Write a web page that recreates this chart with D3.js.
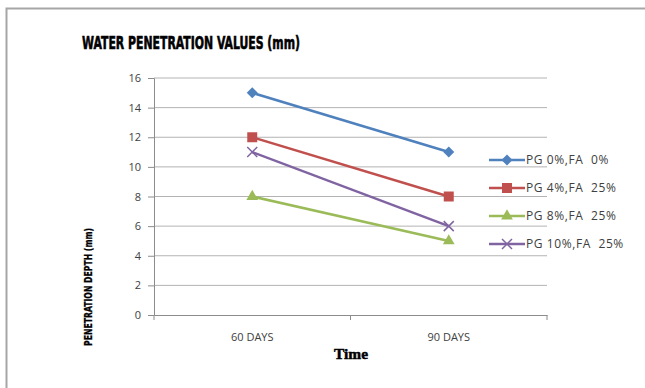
<!DOCTYPE html>
<html>
<head>
<meta charset="utf-8">
<script src="https://cdn.jsdelivr.net/npm/d3@7"></script>
<style>
  body { margin: 0; background: #fff; }
  svg { display: block; }
  text { white-space: pre; }
</style>
</head>
<body>
<svg id="chart" width="645" height="388"></svg>
<script>
// chart data
const categories = ["60 DAYS", "90 DAYS"];
const seriesNames = ["PG 0%,FA  0%", "PG 4%,FA  25%", "PG 8%,FA  25%", "PG 10%,FA  25%"];
const pg0 = [15, 11];
const pg4 = [12, 8];
const pg8 = [8, 5];
const pg10 = [11, 6];
const yTicks = [0, 2, 4, 6, 8, 10, 12, 14, 16];

const colors = ["#4F81BD", "#C0504D", "#9BBB59", "#8064A2"];
const markerTypes = ["diamond", "square", "triangle", "x"];
const series = [pg0, pg4, pg8, pg10].map((v, i) => ({name: seriesNames[i], values: v, color: colors[i], type: markerTypes[i]}));

// draw a marker at (cx, cy)
function marker(g, type, color, cx, cy) {
    const m = g.append("path").attr("transform", `translate(${cx},${cy})`);
    if (type === "diamond") {
        m.attr("d", "M0,-5.5L5.5,0L0,5.5L-5.5,0Z").attr("fill", color);
    } else if (type === "square") {
        m.attr("d", "M-5,-5H5V5H-5Z").attr("fill", color);
    } else if (type === "triangle") {
        m.attr("d", d3.symbol(d3.symbolTriangle, 60)()).attr("fill", color);
    } else {
        m.attr("d", "M-5,-5L5,5M-5,5L5,-5").attr("fill", "none")
            .attr("stroke", color).attr("stroke-width", 1.5);
    }
}

const svg = d3.select("#chart");
const margin = {top: 78, right: 98, bottom: 73, left: 154};
const width = 645, height = 388;

// outer frame
svg.append("path")
    .attr("d", "M6.5,388 V8.5 H645")
    .attr("fill", "none")
    .attr("stroke", "#a6a6a6")
    .attr("stroke-width", 2);

const x = d3.scaleBand()
    .domain(categories)
    .range([margin.left, width - margin.right]);

const y = d3.scaleLinear()
    .domain([0, 16])
    .range([height - margin.bottom, margin.top]);

// gridlines
svg.append("g")
    .selectAll("line").data(yTicks.filter(d => d > 0)).enter().append("line")
    .attr("x1", margin.left).attr("x2", width - margin.right)
    .attr("y1", d => y(d)).attr("y2", d => y(d))
    .attr("stroke", "#b3b3b3").attr("stroke-width", 1);

// y axis
const yAxis = svg.append("g")
    .attr("transform", `translate(${margin.left},0)`)
    .call(d3.axisLeft(y).tickValues(yTicks).tickSize(6).tickPadding(7));
yAxis.selectAll("line, path").attr("stroke", "#8c8c8c");
yAxis.selectAll("text").attr("fill", "#404040").style("font", "11px 'Open Sans', sans-serif");

// x axis
const xAxis = svg.append("g")
    .attr("transform", `translate(0,${y(0)})`)
    .call(d3.axisBottom(x).tickSizeOuter(0).tickSize(0).tickPadding(18));
xAxis.select("path").attr("stroke", "#8c8c8c");
xAxis.selectAll("text").attr("fill", "#404040").style("font", "11px 'Open Sans', sans-serif");
svg.append("g").selectAll("line").data([x.range()[0], x("90 DAYS"), x.range()[1]]).enter().append("line")
    .attr("x1", d => d).attr("x2", d => d)
    .attr("y1", y(0)).attr("y2", y(0) + 5)
    .attr("stroke", "#8c8c8c");

// lines
const line = d3.line()
    .x((d, i) => x(categories[i]) + x.bandwidth() / 2)
    .y(d => y(d));

series.forEach(s => {
    svg.append("path")
        .datum(s.values)
        .attr("fill", "none")
        .attr("stroke", s.color)
        .attr("stroke-width", 2.5)
        .attr("d", line);
    const g = svg.append("g");
    s.values.forEach((d, i) => marker(g, s.type, s.color, x(categories[i]) + x.bandwidth() / 2, y(d)));
});

// legend
const legend = svg.append("g");
series.forEach((s, i) => {
    const ly = 160 + i * 28;
    legend.append("line")
        .attr("x1", 489).attr("x2", 525).attr("y1", ly).attr("y2", ly)
        .attr("stroke", s.color).attr("stroke-width", 2.5);
    marker(legend, s.type, s.color, 507, ly);
    legend.append("text")
        .attr("x", 526).attr("y", ly + 4)
        .attr("fill", "#404040")
        .style("font", "12px 'Open Sans', sans-serif")
        .style("letter-spacing", "0.6px")
        .text(s.name);
});

// titles
svg.append("text")
    .attr("x", 82).attr("y", 49)
    .attr("textLength", 218).attr("lengthAdjust", "spacingAndGlyphs")
    .style("font", "900 18px 'Liberation Sans Narrow', 'DejaVu Sans Condensed', sans-serif")
    .attr("stroke", "#000").attr("stroke-width", 0.6)
    .attr("fill", "#000")
    .text("WATER PENETRATION VALUES (mm)");

svg.append("text")
    .attr("transform", "translate(92,287) rotate(-90)")
    .attr("text-anchor", "middle")
    .attr("textLength", 118).attr("lengthAdjust", "spacingAndGlyphs")
    .style("font", "bold 11px 'Liberation Sans Narrow', 'DejaVu Sans Condensed', sans-serif")
    .attr("stroke", "#000").attr("stroke-width", 0.3)
    .attr("fill", "#000")
    .text("PENETRATION DEPTH (mm)");

svg.append("text")
    .attr("x", 351).attr("y", 359)
    .attr("text-anchor", "middle")
    .attr("textLength", 34).attr("lengthAdjust", "spacingAndGlyphs")
    .style("font", "bold 15px 'Liberation Serif', serif")
    .attr("stroke", "#000").attr("stroke-width", 0.5)
    .attr("fill", "#000")
    .text("Time");
</script>
</body>
</html>
